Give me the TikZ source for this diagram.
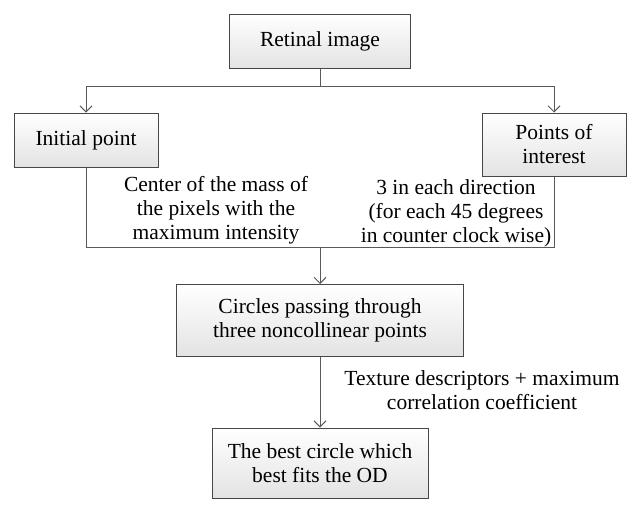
\documentclass[tikz,border=0pt]{standalone}
\usepackage{fontspec}
\setmainfont{Liberation Serif}
\usetikzlibrary{arrows.meta}
\begin{document}
\begin{tikzpicture}[x=1pt,y=-1pt,
  every node/.style={font=\fontsize{21.5}{24}\selectfont},
  box/.style={draw=black!72, line width=1pt, top color=white, bottom color=black!11,
    inner sep=2pt, align=center},
  lbl/.style={align=center, inner sep=0pt},
  conn/.style={draw=black!65, line width=1pt},
  arr/.style={conn, -{Straight Barb[length=6pt,width=12pt,line width=1pt]}}]
\useasboundingbox (0,0) rectangle (640,514);
\node[box, minimum width=181pt, minimum height=54pt] (ret) at (320,41) {Retinal image};
\node[box, minimum width=144pt, minimum height=54pt] (ini) at (86,140) {Initial point};
\node[box, minimum width=144pt, minimum height=63pt] (poi) at (554,144.5) {Points of\\interest};
\node[box, minimum width=287pt, minimum height=72pt] (cir) at (320,320.5) {Circles passing through\\three noncollinear points};
\node[box, minimum width=216pt, minimum height=70pt] (bst) at (320,463) {The best circle which\\best fits the OD};
\coordinate (j1) at (320,86);
\coordinate (j2) at (320,247);
\draw[conn] (ret.south) -- (j1);
\draw[arr] (j1) -| (ini.north);
\draw[arr] (j1) -| (poi.north);
\draw[conn] (ini.south) |- (j2);
\draw[conn] (poi.south) |- (j2);
\draw[arr] (j2) -- (cir.north);
\draw[arr] (cir.south) -- (bst.north);
\node[lbl] (t1) at (216,210) {Center of the mass of\\the pixels with the\\maximum intensity};
\node[lbl] (t2) at (456,213) {3 in each direction\\(for each 45 degrees\\in counter clock wise)};
\node[lbl] (t3) at (482,390) {Texture descriptors + maximum\\correlation coefficient};
\end{tikzpicture}
\end{document}
